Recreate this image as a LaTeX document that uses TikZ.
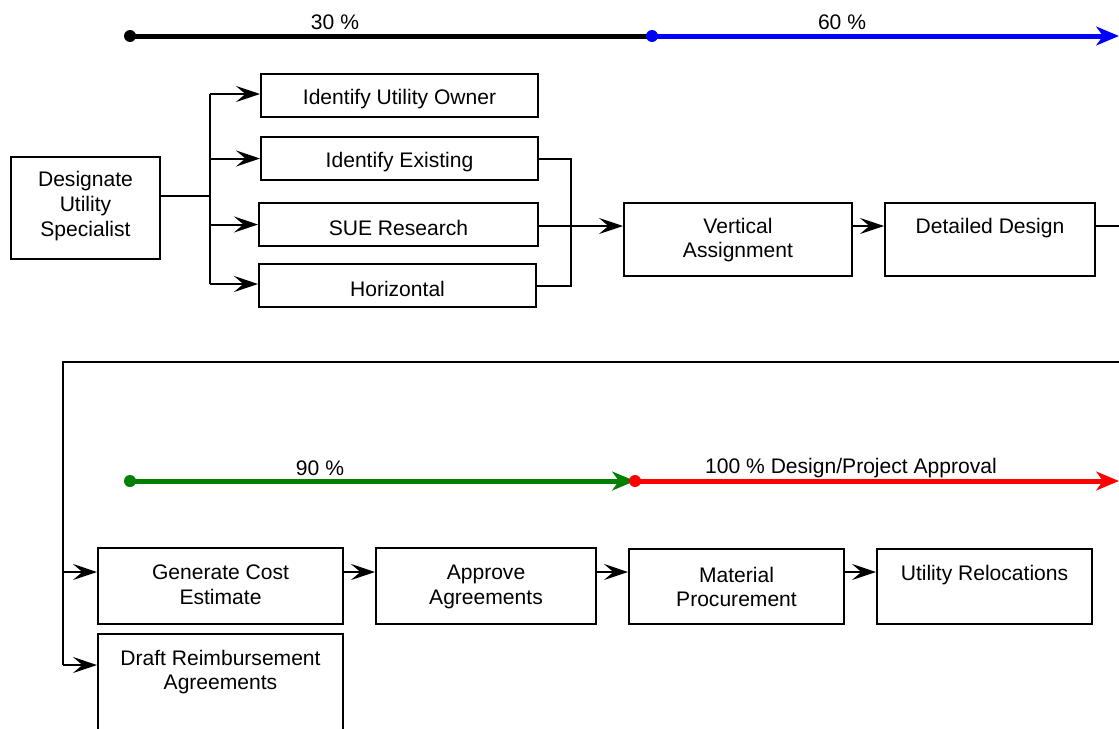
\documentclass[tikz,border=0pt]{standalone}
\usepackage{fontspec}
\setmainfont{Liberation Sans}
\usetikzlibrary{arrows.meta}
\newcommand\mybox[5]{\node[box, minimum width={(#4-#2)*0.75pt}, minimum height={(#5-#3)*0.75pt}] (#1) at ({(#2+#4)/2},{(#3+#5)/2}) {};}
\begin{document}
\begin{tikzpicture}[x=0.75pt,y=-0.75pt,
  box/.style={draw, line width=1.5pt, inner sep=0pt, rectangle},
  lbl/.style={font=\fontsize{15.8}{18.5}\selectfont, align=center, inner sep=0pt},
  conn/.style={line width=1.5pt, -{Stealth[length=18pt,width=12pt,inset=7pt]}},
  wire/.style={line width=1.5pt},
  tl/.style={line width=3.75pt},
  tlarrow/.style={tl, -{Stealth[length=17pt,width=14pt,inset=5pt]}},
  dot/.style={circle, inner sep=0pt, minimum size=9pt}
]
\useasboundingbox (0,0) rectangle (1119,728);

% top timeline
\coordinate (p0) at (130,36);
\coordinate (p1) at (652,36);
\coordinate (p2) at (1119,36);
\draw[tl, black] (p0) -- (p1);
\draw[tlarrow, blue] (p1) -- (p2);
\node[dot, fill=black] (d0) at (p0) {};
\node[dot, fill=blue] (d1) at (p1) {};
\node[lbl] (l30) at (335,22) {30 \%};
\node[lbl] (l60) at (842,22) {60 \%};

% upper boxes
\mybox{ds}{11}{157}{160}{259}
\mybox{iuo}{261}{74}{538}{117}
\mybox{ie}{261}{137}{538}{180}
\mybox{sue}{259}{203}{538}{246}
\mybox{hz}{259}{264}{536}{307}
\mybox{va}{624}{203}{852}{276}
\mybox{dd}{885}{203}{1095}{276}

\node[lbl] (tds) at (85.5,206) {Designate\\Utility\\Specialist};
\node[lbl] (tiuo) at (399.5,99) {Identify Utility Owner};
\node[lbl] (tie) at (399.5,162) {Identify Existing};
\node[lbl] (tsue) at (398.5,228) {SUE Research};
\node[lbl] (thz) at (397.5,289) {Horizontal};
\node[lbl] (tva) at (738,240) {Vertical\\Assignment};
\node[lbl] (tdd) at (990,228) {Detailed Design};

% branch
\coordinate (b0) at (210,196);
\coordinate (bt) at (210,94);
\coordinate (bb) at (210,284);
\draw[wire] (ds.east |- b0) -- (b0);
\draw[wire] (bt) -- (bb);
\draw[conn] (bt) -- (iuo.west |- bt);
\draw[conn] (bt |- ie.west) -- (ie.west);
\draw[conn] (bt |- sue.west) -- (sue.west);
\draw[conn] (bb) -- (hz.west |- bb);

% merge
\coordinate (mx) at (571,0);
\coordinate (r1) at (0,226);
\draw[wire] (ie.east) -| (mx |- hz.east) -- (hz.east);
\draw[conn] (sue.east |- r1) -- (va.west |- r1);
\draw[conn] (va.east |- r1) -- (dd.west |- r1);
\coordinate (e1) at (1119,226);
\draw[wire] (dd.east |- r1) -- (e1);

% frame
\coordinate (e2) at (1119,362);
\coordinate (fc) at (63,362);
\coordinate (fb) at (63,665);
\draw[wire] (e2) -- (fc) -- (fb);

% bottom timeline
\coordinate (q0) at (130,481);
\coordinate (q1) at (635,481);
\coordinate (q2) at (1119,481);
\draw[tlarrow, green!50!black] (q0) -- (q1);
\draw[tlarrow, red] (q1) -- (q2);
\node[dot, fill=green!50!black] (g0) at (q0) {};
\node[dot, fill=red] (g1) at (q1) {};
\node[lbl] (l90) at (320,468) {90 \%};
\node[lbl] (l100) at (851,468) {100 \% Design/Project Approval};

% lower boxes
\mybox{gce}{98}{548}{343}{624}
\mybox{ap}{376}{548}{596}{624}
\mybox{mp}{629}{549}{844}{624}
\mybox{ur}{877}{549}{1092}{624}
\mybox{dra}{98}{634}{343}{740}

\node[lbl] (tgce) at (220.5,585) {Generate Cost\\Estimate};
\node[lbl] (tap) at (486,587) {Approve\\Agreements};
\node[lbl] (tmp) at (736.5,587) {Material\\Procurement};
\node[lbl] (tur) at (984.5,575) {Utility Relocations};
\node[lbl] (tdra) at (220.5,672) {Draft Reimbursement\\Agreements};

\coordinate (r2) at (0,572);
\draw[conn] (fc |- r2) -- (gce.west |- r2);
\draw[conn] (gce.east |- r2) -- (ap.west |- r2);
\draw[conn] (ap.east |- r2) -- (mp.west |- r2);
\draw[conn] (mp.east |- r2) -- (ur.west |- r2);
\draw[conn] (fb) -- (dra.west |- fb);
\end{tikzpicture}
\end{document}
